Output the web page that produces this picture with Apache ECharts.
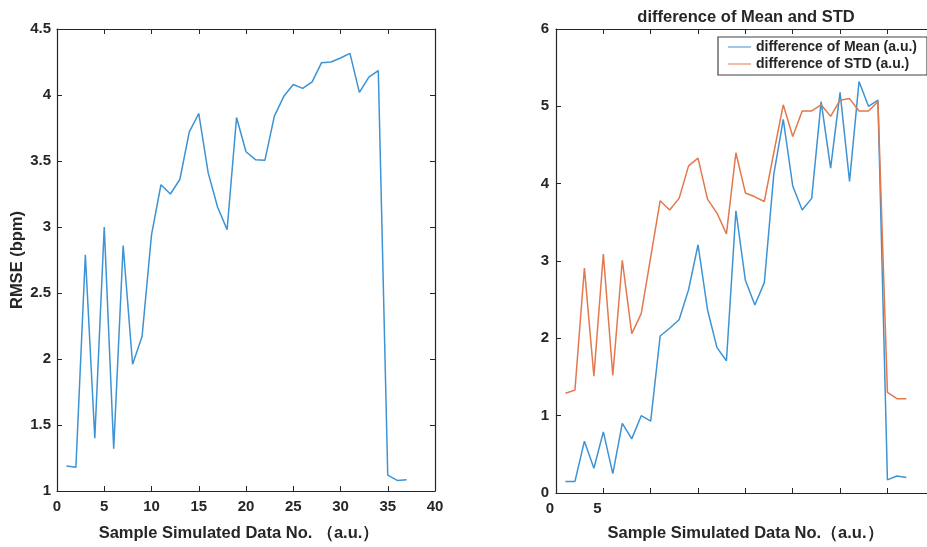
<!DOCTYPE html>
<html>
<head>
<meta charset="utf-8">
<script src="https://cdn.jsdelivr.net/npm/echarts@6/dist/echarts.min.js"></script>
<style>
html,body{margin:0;padding:0;background:#fff;}
#chart{width:927px;height:547px;}
</style>
</head>
<body>
<div id="chart"></div>
<script>
// ---- data ----
const sampleNo = [1,2,3,4,5,6,7,8,9,10,11,12,13,14,15,16,17,18,19,20,21,22,23,24,25,26,27,28,29,30,31,32,33,34,35,36,37];
const rmse = [1.19,1.18,2.79,1.40,3.00,1.32,2.86,1.96,2.17,2.94,3.32,3.25,3.36,3.72,3.86,3.41,3.15,2.98,3.83,3.57,3.51,3.505,3.84,3.99,4.08,4.05,4.10,4.245,4.25,4.28,4.315,4.02,4.135,4.185,1.12,1.08,1.085];
const diffMean = [0.15,0.15,0.67,0.32,0.79,0.25,0.90,0.70,1.00,0.93,2.03,2.13,2.24,2.63,3.21,2.37,1.88,1.71,3.65,2.75,2.43,2.72,4.12,4.83,3.97,3.66,3.81,5.06,4.20,5.18,4.03,5.32,5.00,5.08,0.17,0.22,0.20];
const diffStd = [1.29,1.33,2.91,1.51,3.09,1.52,3.01,2.06,2.32,3.05,3.78,3.66,3.81,4.23,4.33,3.80,3.62,3.35,4.40,3.88,3.83,3.77,4.40,5.02,4.61,4.94,4.94,5.02,4.87,5.08,5.10,4.94,4.94,5.06,1.30,1.22,1.22];
const rightXLabels = ['0','5'];
const titleText = 'difference of Mean and STD';
const xTitleLeft = 'Sample Simulated Data No. （a.u.）';
const xTitleRight = 'Sample Simulated Data No.（a.u.）';
const yTitleLeft = 'RMSE (bpm)';
const legendMean = 'difference of Mean (a.u.)';
const legendStd = 'difference of STD (a.u.)';

const FONT = 'Liberation Sans, Arial, sans-serif';
const TXT = '#262626';
const AX = '#262626';
const BLUE = '#3d93d4';
const ORANGE = '#e2784c';

function pairs(xs, ys){ return xs.map((x,i)=>[x, ys[i]]); }

const lblStyle = {color: TXT, fontFamily: FONT, fontWeight: 'bold', fontSize: 15};
const nameStyle = {color: TXT, fontFamily: FONT, fontWeight: 'bold', fontSize: 16.5};
function baseAxis(extra){
  return Object.assign({
    axisLine: {show: true, onZero: false, lineStyle: {color: AX, width: 1.2}},
    axisTick: {show: true, inside: true, length: 5, lineStyle: {color: AX, width: 1}},
    splitLine: {show: false},
    nameTextStyle: nameStyle
  }, extra);
}

const chart = echarts.init(document.getElementById('chart'), null, {renderer: 'canvas'});
const option = {
  animation: false,
  backgroundColor: '#fff',
  title: {
    text: titleText,
    left: 741, top: 4, textAlign: 'center',
    textStyle: {color: TXT, fontFamily: FONT, fontWeight: 'bold', fontSize: 16.5}
  },
  legend: {
    data: [legendMean, legendStd],
    orient: 'vertical',
    left: 718, top: 37,
    backgroundColor: '#fff',
    borderColor: '#444', borderWidth: 1.2,
    padding: [3, 10, 4, 10],
    itemWidth: 23, itemHeight: 10, itemGap: 3,
    icon: 'path://M0,4.5 L23,4.5 L23,5.5 L0,5.5 Z',
    textStyle: {color: TXT, fontFamily: FONT, fontWeight: 'bold', fontSize: 14, padding: [0,0,0,0]}
  },
  grid: [
    {left: 57, top: 29, width: 378, height: 464, containLabel: false},
    {left: 556, top: 29, width: 371, height: 464, containLabel: false}
  ],
  xAxis: [
    baseAxis({type: 'value', gridIndex: 0, min: 0, max: 40, interval: 5, position: 'bottom',
      name: xTitleLeft, nameLocation: 'middle', nameGap: 34,
      nameTextStyle: Object.assign({}, nameStyle, {padding: [0, 14, 0, 0]}),
      axisLabel: Object.assign({margin: 8}, lblStyle)}),
    baseAxis({type: 'value', gridIndex: 0, min: 0, max: 40, interval: 5, position: 'top',
      axisLabel: {show: false}}),
    baseAxis({type: 'value', gridIndex: 1, min: 0, max: 39.18, interval: 5, position: 'bottom',
      name: xTitleRight, nameLocation: 'middle', nameGap: 32,
      nameTextStyle: Object.assign({}, nameStyle, {padding: [0, 0, 0, 8]}),
      axisLabel: Object.assign({margin: 8, padding: [0, 12, 0, 0], showMaxLabel: false,
        formatter: function(v){ const s = String(v); return rightXLabels.indexOf(s) >= 0 ? s : ''; }}, lblStyle)}),
    baseAxis({type: 'value', gridIndex: 1, min: 0, max: 39.18, interval: 5, position: 'top',
      axisLabel: {show: false}})
  ],
  yAxis: [
    baseAxis({type: 'value', gridIndex: 0, min: 1, max: 4.5, interval: 0.5, position: 'left',
      name: yTitleLeft, nameLocation: 'middle', nameGap: 31, nameRotate: 90,
      axisLabel: Object.assign({margin: 6}, lblStyle)}),
    baseAxis({type: 'value', gridIndex: 0, min: 1, max: 4.5, interval: 0.5, position: 'right',
      axisLabel: {show: false}}),
    baseAxis({type: 'value', gridIndex: 1, min: 0, max: 6, interval: 1, position: 'left',
      axisLabel: Object.assign({margin: 7}, lblStyle)})
  ],
  series: [
    {type: 'line', xAxisIndex: 0, yAxisIndex: 0, data: pairs(sampleNo, rmse), showSymbol: false,
      lineStyle: {color: BLUE, width: 1.5}, itemStyle: {color: BLUE}},
    {type: 'line', name: legendMean, xAxisIndex: 2, yAxisIndex: 2, data: pairs(sampleNo, diffMean), showSymbol: false,
      lineStyle: {color: BLUE, width: 1.5}, itemStyle: {color: BLUE}},
    {type: 'line', name: legendStd, xAxisIndex: 2, yAxisIndex: 2, data: pairs(sampleNo, diffStd), showSymbol: false,
      lineStyle: {color: ORANGE, width: 1.5}, itemStyle: {color: ORANGE}}
  ]
};
chart.setOption(option);
</script>
</body>
</html>
